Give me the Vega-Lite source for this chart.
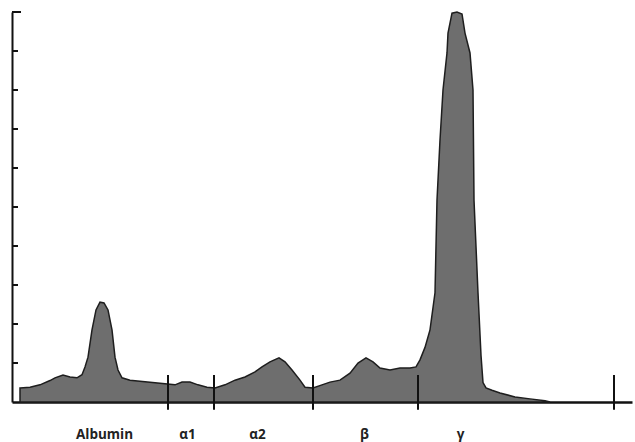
{
  "$schema": "https://vega.github.io/schema/vega-lite/v6.json",
  "width": 620,
  "height": 390,
  "autosize": {"type": "none"},
  "padding": {"left": 12, "top": 12, "right": 3, "bottom": 40},
  "background": "white",
  "config": {"view": {"stroke": null}},
  "datasets": {
    "profile": [
      {"x": 8, "v": 0.36}, {"x": 18, "v": 0.38}, {"x": 28, "v": 0.44}, {"x": 38, "v": 0.55},
      {"x": 43, "v": 0.62}, {"x": 51, "v": 0.69}, {"x": 58, "v": 0.64}, {"x": 65, "v": 0.62},
      {"x": 70, "v": 0.7}, {"x": 73, "v": 0.9}, {"x": 76, "v": 1.15}, {"x": 80, "v": 1.85},
      {"x": 84, "v": 2.36}, {"x": 88, "v": 2.56}, {"x": 92, "v": 2.54}, {"x": 96, "v": 2.36},
      {"x": 100, "v": 1.85}, {"x": 103, "v": 1.15}, {"x": 106, "v": 0.82}, {"x": 110, "v": 0.62},
      {"x": 118, "v": 0.56}, {"x": 133, "v": 0.52}, {"x": 148, "v": 0.48}, {"x": 163, "v": 0.44},
      {"x": 170, "v": 0.51}, {"x": 178, "v": 0.51}, {"x": 186, "v": 0.44}, {"x": 195, "v": 0.38},
      {"x": 203, "v": 0.36}, {"x": 213, "v": 0.44}, {"x": 223, "v": 0.56}, {"x": 233, "v": 0.64},
      {"x": 243, "v": 0.77}, {"x": 250, "v": 0.9}, {"x": 258, "v": 1.03}, {"x": 267, "v": 1.13},
      {"x": 273, "v": 1.03}, {"x": 280, "v": 0.82}, {"x": 288, "v": 0.56}, {"x": 293, "v": 0.38},
      {"x": 301, "v": 0.36}, {"x": 310, "v": 0.44}, {"x": 318, "v": 0.51}, {"x": 328, "v": 0.56},
      {"x": 338, "v": 0.74}, {"x": 346, "v": 1.0}, {"x": 354, "v": 1.13}, {"x": 361, "v": 1.03},
      {"x": 368, "v": 0.87}, {"x": 378, "v": 0.82}, {"x": 388, "v": 0.87}, {"x": 398, "v": 0.87},
      {"x": 404, "v": 0.9}, {"x": 408, "v": 1.08}, {"x": 413, "v": 1.4}, {"x": 418, "v": 1.85},
      {"x": 423, "v": 2.8}, {"x": 424, "v": 4.0}, {"x": 425, "v": 5.18}, {"x": 428, "v": 6.72},
      {"x": 431, "v": 8.0}, {"x": 435, "v": 8.95}, {"x": 436, "v": 9.46}, {"x": 440, "v": 9.97},
      {"x": 445, "v": 10.0}, {"x": 450, "v": 9.95}, {"x": 453, "v": 9.46}, {"x": 458, "v": 8.95},
      {"x": 461, "v": 8.0}, {"x": 462, "v": 5.18}, {"x": 466, "v": 2.8}, {"x": 469, "v": 1.2},
      {"x": 471, "v": 0.5}, {"x": 474, "v": 0.36}, {"x": 480, "v": 0.3}, {"x": 488, "v": 0.23},
      {"x": 503, "v": 0.13}, {"x": 518, "v": 0.08}, {"x": 533, "v": 0.03}, {"x": 538, "v": 0}
    ],
    "rules": [
      {"x": 156, "x2": 156, "y": -0.2, "y2": 0.69},
      {"x": 202, "x2": 202, "y": -0.2, "y2": 0.69},
      {"x": 301, "x2": 301, "y": -0.2, "y2": 0.69},
      {"x": 406, "x2": 406, "y": -0.2, "y2": 0.69},
      {"x": 602, "x2": 602, "y": -0.2, "y2": 0.69},
      {"x": 0, "x2": 6, "y": 1, "y2": 1},
      {"x": 0, "x2": 6, "y": 2, "y2": 2},
      {"x": 0, "x2": 6, "y": 3, "y2": 3},
      {"x": 0, "x2": 6, "y": 4, "y2": 4},
      {"x": 0, "x2": 6, "y": 5, "y2": 5},
      {"x": 0, "x2": 6, "y": 6, "y2": 6},
      {"x": 0, "x2": 6, "y": 7, "y2": 7},
      {"x": 0, "x2": 6, "y": 8, "y2": 8},
      {"x": 0, "x2": 6, "y": 9, "y2": 9},
      {"x": 0, "x2": 9, "y": 10, "y2": 10}
    ]
  },
  "layer": [
    {
      "data": {"name": "profile"},
      "mark": {"type": "area", "fill": "#6e6e6e", "stroke": "#1e1e1e", "strokeWidth": 1.5, "interpolate": "linear"},
      "encoding": {
        "x": {
          "field": "x", "type": "quantitative",
          "scale": {"domain": [0, 620], "nice": false, "zero": false},
          "axis": {
            "orient": "bottom",
            "values": [92, 175, 245, 352, 448],
            "labelExpr": "datum.value == 92 ? 'Albumin' : datum.value == 175 ? 'α1' : datum.value == 245 ? 'α2' : datum.value == 352 ? 'β' : 'γ'",
            "ticks": false,
            "grid": false,
            "title": null,
            "domainColor": "#111111",
            "domainWidth": 2.5,
            "labelPadding": 25,
            "labelFont": "Open Sans",
            "labelFontWeight": "bold",
            "labelFontSize": 13.5,
            "labelColor": "#222222"
          }
        },
        "y": {
          "field": "v", "type": "quantitative",
          "scale": {"domain": [0, 10], "nice": false},
          "axis": {
            "labels": false,
            "ticks": false,
            "grid": false,
            "title": null,
            "domainColor": "#111111",
            "domainWidth": 2
          }
        }
      }
    },
    {
      "data": {"name": "rules"},
      "mark": {"type": "rule", "color": "#111111", "strokeWidth": 2, "clip": false},
      "encoding": {
        "x": {"field": "x", "type": "quantitative"},
        "x2": {"field": "x2"},
        "y": {"field": "y", "type": "quantitative"},
        "y2": {"field": "y2"}
      }
    }
  ]
}
